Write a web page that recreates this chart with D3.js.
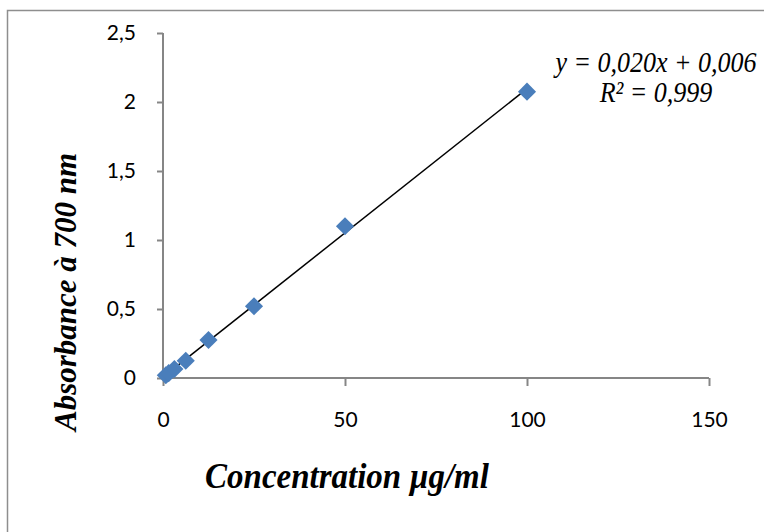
<!DOCTYPE html>
<html><head><meta charset="utf-8">
<script src="https://cdn.jsdelivr.net/npm/d3@7"></script>
<style>html,body{margin:0;padding:0;background:#fff;}svg{display:block;}</style>
</head><body>
<svg id="c" width="764" height="532"></svg>
<script>
const concentrations = [0.78, 1.5625, 3.125, 6.25, 12.5, 25, 50, 100];
const absorbances = [0.02, 0.035, 0.065, 0.125, 0.275, 0.52, 1.10, 2.075];
const xTicks = [0, 50, 100, 150];
const yTicks = [0, 0.5, 1, 1.5, 2, 2.5];
const equationLines = ["y = 0,020x + 0,006", "R² = 0,999"];
const xTitle = "Concentration µg/ml";
const yTitle = "Absorbance à 700 nm";

const svg = d3.select("#c");
svg.append("rect").attr("x",7.5).attr("y",10.5).attr("width",800).attr("height",600)
  .attr("fill","#fff").attr("stroke","#8e8e8e").attr("stroke-width",1.5);

const x = d3.scaleLinear().domain([0,150]).range([163,709]);
const y = d3.scaleLinear().domain([0,2.5]).range([378,33]);
const fmt = d => String(d).replace(".", ",");

const axisColor = "#868686";
const gx = svg.append("g").attr("transform","translate(0,378)")
  .call(d3.axisBottom(x).tickValues(xTicks).tickFormat(fmt).tickSize(8).tickPadding(26));
const gy = svg.append("g").attr("transform","translate(163,0)")
  .call(d3.axisLeft(y).tickValues(yTicks).tickFormat(fmt).tickSize(6).tickPadding(21));
[gx,gy].forEach(g=>{
  g.select(".domain").attr("stroke",axisColor).attr("stroke-width",2);
  g.selectAll(".tick line").attr("stroke",axisColor).attr("stroke-width",2);
  g.selectAll(".tick text").attr("fill","#000").style("font-family","Lato, 'Open Sans', sans-serif").style("font-size","21px");
});
gx.select(".domain").attr("d","M163,0H709");
gy.select(".domain").attr("d","M0,33V378");

// trendline (least squares)
const n = concentrations.length;
const mx = d3.mean(concentrations), my = d3.mean(absorbances);
let sxy=0, sxx=0;
for (let i=0;i<n;i++){ sxy += (concentrations[i]-mx)*(absorbances[i]-my); sxx += (concentrations[i]-mx)**2; }
const slope = sxy/sxx, intercept = my - slope*mx;
const x0 = d3.min(concentrations), x1 = d3.max(concentrations);
svg.append("line").attr("x1",x(x0)).attr("y1",y(slope*x0+intercept))
  .attr("x2",x(x1)).attr("y2",y(slope*x1+intercept)).attr("stroke","#000").attr("stroke-width",1.5);

// points
svg.append("g").selectAll("path").data(concentrations.map((c,i)=>[c,absorbances[i]])).join("path")
  .attr("d", d3.symbol().type(d3.symbolDiamond2).size(210)())
  .attr("transform", d=>`translate(${x(d[0])},${y(d[1])})`)
  .attr("fill","#4a7ebb");

// equation
svg.append("g").selectAll("text").data(equationLines).join("text")
  .attr("transform",(d,i)=>`translate(656,${72+i*30}) scale(1,1.15)`).attr("text-anchor","middle")
  .style("font-family","'Liberation Serif', 'Times New Roman', serif").style("font-style","italic")
  .style("font-size","26px").text(d=>d);

// axis titles
svg.append("text").attr("transform","translate(347,488) scale(1,1.1)").attr("text-anchor","middle")
  .style("font-family","'Liberation Serif', 'Times New Roman', serif").style("font-style","italic").style("font-weight","bold")
  .style("font-size","33px").text(xTitle);
svg.append("text").attr("transform","translate(76,292) rotate(-90) scale(1,1.05)").attr("text-anchor","middle")
  .style("font-family","'Liberation Serif', 'Times New Roman', serif").style("font-style","italic").style("font-weight","bold")
  .style("font-size","31px").text(yTitle);
</script>
</body></html>
